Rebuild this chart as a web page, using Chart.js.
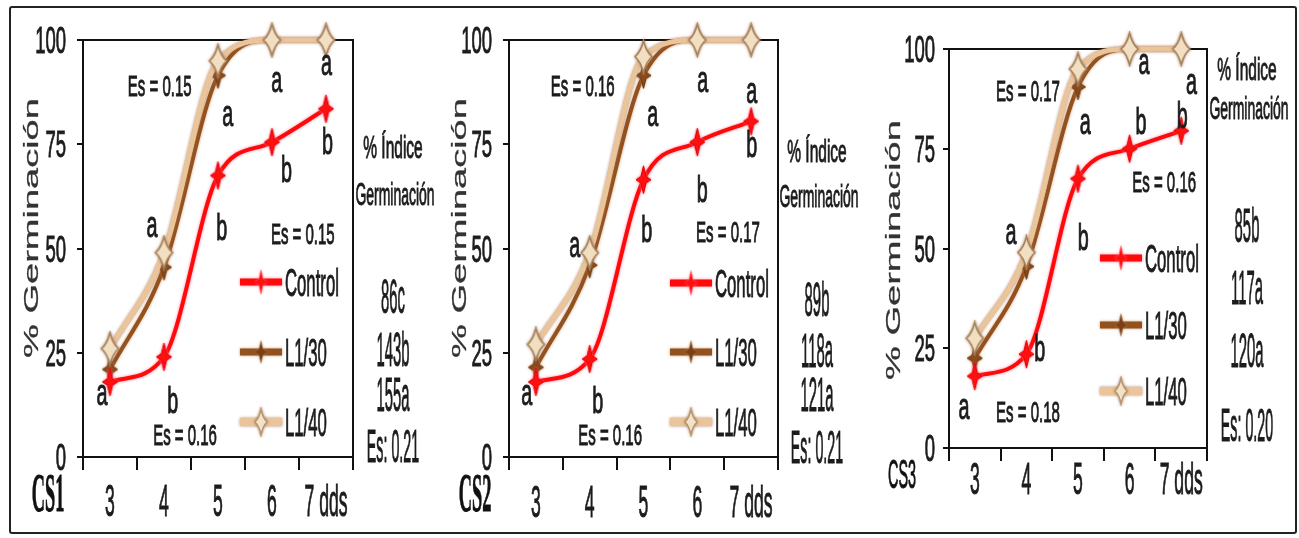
<!DOCTYPE html>
<html>
<head>
<meta charset="utf-8">
<title>Germinación CS1 CS2 CS3</title>
<script src="https://cdn.jsdelivr.net/npm/chart.js@4.4.1/dist/chart.umd.min.js"></script>
<style>
  body { margin: 0; background: #fff; }
  #wrap { position: relative; width: 1299px; height: 538px; overflow: hidden; }
  #frame { position: absolute; left: 9px; top: 6px; width: 1284px; height: 524px;
           border: 2px solid #222; border-radius: 3px; }
  canvas { position: absolute; top: 0; }
</style>
</head>
<body>
<div id="wrap">
  <div id="frame"></div>
  <canvas id="cs1"></canvas>
  <canvas id="cs2"></canvas>
  <canvas id="cs3"></canvas>
</div>
<script>
// days after sowing
const days = ['3', '4', '5', '6', '7'];
const dayTickLabels = ['3', '4', '5', '6', '7 dds'];
const yTickValues = [0, 25, 50, 75, 100];
const seriesNames = ['Control', 'L1/30', 'L1/40'];

// % germinación per day
const cs1Control = [18, 24, 67.5, 75.5, 83.5];
const cs1L130 = [21, 45.5, 91.5, 100, 100];
const cs1L140 = [26, 49, 95, 100, 100];

const cs2Control = [18, 23.5, 66.5, 75.5, 80.5];
const cs2L130 = [21.5, 46, 91.5, 100, 100];
const cs2L140 = [27, 49, 96, 100, 100];

const cs3Control = [18, 23.5, 67.5, 75, 79.5];
const cs3L130 = [22.5, 45.5, 90.5, 100, 100];
const cs3L140 = [27.5, 49, 95, 100, 100];

// % índice de germinación (Control, L1/30, L1/40)
const cs1Indice = ['86c', '143b', '155a'];
const cs2Indice = ['89b', '118a', '121a'];
const cs3Indice = ['85b', '117a', '120a'];
const indiceEs = ['Es: 0.21', 'Es: 0.21', 'Es: 0.20'];

// significance letters and standard errors: [text, day index, % value]
const cs1Notes = [
  ['Es = 0.15', 0.92, 89], ['a', 3.09, 90], ['a', 4.01, 94], ['a', 2.18, 81.8],
  ['b', 4.03, 75.8], ['b', 3.27, 69.3], ['a', 0.78, 55.2], ['b', 2.07, 55.2],
  ['Es = 0.15', 3.57, 53.5], ['a', -0.15, 14.9], ['b', 1.16, 13.7], ['Es = 0.16', 1.39, 5.3]
];
const cs2Notes = [
  ['Es = 0.16', 0.87, 89], ['a', 3.10, 90], ['a', 4.01, 87.3], ['a', 2.17, 81.8],
  ['b', 4.01, 75.1], ['b', 3.09, 64.3], ['a', 0.72, 50.4], ['b', 2.06, 54.7],
  ['Es = 0.17', 3.57, 54], ['a', -0.17, 14.9], ['b', 1.15, 13.9], ['Es = 0.16', 1.38, 5.3]
];
const cs3Notes = [
  ['a', 3.28, 96.2], ['a', 4.2, 91.2], ['Es = 0.17', 1.03, 89.5], ['a', 2.14, 81.2],
  ['b', 3.22, 82.2], ['b', 4.02, 83.5], ['Es = 0.16', 3.67, 66.7], ['a', 0.7, 53.6],
  ['b', 2.1, 52.9], ['b', 1.26, 25.1], ['a', -0.21, 9.8], ['Es = 0.18', 1.03, 9]
];

const SANS = '"Liberation Sans", Arial, sans-serif';
const SERIF = '"Liberation Serif", "Times New Roman", serif';
const INK = '#1c1c1c';

// squeezed text, centred vertically on its ink box
function txt(ctx, str, x, y, size, sx, o) {
  o = o || {};
  ctx.save();
  ctx.font = (o.weight || 'normal') + ' ' + size + 'px ' + (o.family || SANS);
  ctx.fillStyle = o.color || INK;
  ctx.strokeStyle = o.color || INK;
  ctx.lineWidth = o.stroke === undefined ? 1 : o.stroke;
  ctx.textBaseline = 'alphabetic';
  ctx.textAlign = o.align || 'center';
  const m = ctx.measureText(str);
  const dy = (m.actualBoundingBoxAscent - m.actualBoundingBoxDescent) / 2;
  ctx.translate(x, y);
  ctx.scale(sx, 1);
  if (o.rotate) ctx.rotate(o.rotate);
  ctx.fillText(str, 0, dy);
  if (ctx.lineWidth > 0) ctx.strokeText(str, 0, dy);
  ctx.restore();
}

function starImg(w, h, fill, edge) {
  const c = document.createElement('canvas');
  c.width = w + 4; c.height = h + 4;
  const g = c.getContext('2d');
  const cx = c.width / 2, cy = c.height / 2;
  g.beginPath();
  g.moveTo(cx, cy - h / 2);
  g.lineTo(cx + w * 0.17, cy - h * 0.12);
  g.lineTo(cx + w / 2, cy);
  g.lineTo(cx + w * 0.17, cy + h * 0.12);
  g.lineTo(cx, cy + h / 2);
  g.lineTo(cx - w * 0.17, cy + h * 0.12);
  g.lineTo(cx - w / 2, cy);
  g.lineTo(cx - w * 0.17, cy - h * 0.12);
  g.closePath();
  g.fillStyle = fill; g.fill();
  if (edge) { g.strokeStyle = edge; g.lineWidth = 1; g.stroke(); }
  return c;
}

function diamondImg(w, h, fill, edge) {
  const c = document.createElement('canvas');
  c.width = w + 4; c.height = h + 4;
  const g = c.getContext('2d');
  const cx = c.width / 2, cy = c.height / 2;
  g.beginPath();
  g.moveTo(cx, cy - h / 2);
  g.quadraticCurveTo(cx + w * 0.15, cy - h * 0.15, cx + w / 2, cy);
  g.quadraticCurveTo(cx + w * 0.15, cy + h * 0.15, cx, cy + h / 2);
  g.quadraticCurveTo(cx - w * 0.15, cy + h * 0.15, cx - w / 2, cy);
  g.quadraticCurveTo(cx - w * 0.15, cy - h * 0.15, cx, cy - h / 2);
  g.closePath();
  g.fillStyle = fill; g.fill();
  g.strokeStyle = edge; g.lineWidth = 1.5; g.stroke();
  return c;
}

const STYLES = [
  { color: '#ff0a0a', width: 4, glow: 'rgba(255,110,140,0.9)', order: 0,
    marker: starImg(15, 28, '#ff1010', '#e00000'), legendMarker: starImg(11, 26, '#ff1010'), legendWidth: 7 },
  { color: '#93511e', width: 4, glow: 'rgba(190,130,80,0.8)', order: 2,
    marker: starImg(15, 26, '#8a4a1a', '#6a3510'), legendMarker: starImg(11, 24, '#7a4015'), legendWidth: 7 },
  { color: '#eac59a', width: 5, glow: 'rgba(170,110,80,0.9)', order: 1,
    marker: diamondImg(17, 32, '#f2dfc2', '#a0825a'), legendMarker: diamondImg(12, 26, '#f2e2c8', '#b59870'), legendWidth: 8 }
];

const panels = [
  { id: 'cs1', left: 0, w: 445, name: 'CS1', nameFont: { family: SERIF, weight: 'bold', size: 54, sx: 0.34 },
    pad: { left: 83, right: 92, top: 40, bottom: 81 },
    series: [cs1Control, cs1L130, cs1L140], indice: cs1Indice, es: indiceEs[0], notes: cs1Notes,
    yLabelRight: 66, xLabelY: 500, nameXY: [48, 493], titleXY: [30, 228],
    legendRows: [282, 352, 422], rightX: 393, rightY: [144, 193, 296, 348, 394, 446] },
  { id: 'cs2', left: 430, w: 445, name: 'CS2', nameFont: { family: SERIF, weight: 'bold', size: 54, sx: 0.34 },
    pad: { left: 79, right: 97, top: 40, bottom: 81 },
    series: [cs2Control, cs2L130, cs2L140], indice: cs2Indice, es: indiceEs[1], notes: cs2Notes,
    yLabelRight: 62, xLabelY: 501, nameXY: [45, 493], titleXY: [28, 228],
    legendRows: [283, 352, 422], rightX: 387, rightY: [148, 195, 298, 350, 394, 447] },
  { id: 'cs3', left: 860, w: 439, name: 'CS3', nameFont: { family: SANS, weight: 'normal', size: 40, sx: 0.36 },
    pad: { left: 89, right: 92, top: 49, bottom: 90 },
    series: [cs3Control, cs3L130, cs3L140], indice: cs3Indice, es: indiceEs[2], notes: cs3Notes,
    yLabelRight: 75, xLabelY: 478, nameXY: [42, 474], titleXY: [32, 250],
    legendRows: [258, 325, 391], rightX: 387, rightY: [66, 107, 224, 287, 350, 425] }
];

// soft halo around each curve and its markers
const glowPlugin = {
  id: 'glow',
  beforeDatasetDraw(chart, args) {
    const st = STYLES[args.index];
    chart.ctx.shadowColor = st.glow;
    chart.ctx.shadowBlur = 3;
  },
  afterDatasetDraw(chart) {
    chart.ctx.shadowColor = 'rgba(0,0,0,0)';
    chart.ctx.shadowBlur = 0;
  }
};

function panelTextPlugin(p) {
  return {
    id: 'panelText',
    beforeDatasetsDraw(chart) {
      const ctx = chart.ctx, a = chart.chartArea;
      ctx.save();
      ctx.strokeStyle = '#111';
      ctx.lineWidth = 2;
      ctx.beginPath();
      ctx.moveTo(a.left, a.top);
      ctx.lineTo(a.right, a.top);
      ctx.lineTo(a.right, a.bottom);
      ctx.stroke();
      ctx.restore();
    },
    afterDraw(chart) {
      const ctx = chart.ctx;
      const xs = chart.scales.x, ys = chart.scales.y;

      yTickValues.forEach(v => txt(ctx, String(v), p.yLabelRight, ys.getPixelForValue(v), 37, 0.5, { align: 'right' }));
      dayTickLabels.forEach((s, i) => txt(ctx, s, xs.getPixelForValue(i), p.xLabelY, 44, 0.4));

      txt(ctx, '% Germinación', p.titleXY[0], p.titleXY[1], 38, 0.54, { rotate: -Math.PI / 2, color: '#333', stroke: 0.5 });
      txt(ctx, p.name, p.nameXY[0], p.nameXY[1], p.nameFont.size, p.nameFont.sx,
          { family: p.nameFont.family, weight: p.nameFont.weight, color: '#111' });

      p.notes.forEach(n => {
        const big = n[0].length === 1;
        txt(ctx, n[0], xs.getPixelForValue(n[1]), ys.getPixelForValue(n[2]), big ? 36 : 30, big ? 0.55 : 0.5);
      });

      // legend inside the plot
      seriesNames.forEach((name, i) => {
        const st = STYLES[i], y = p.legendRows[i];
        ctx.save();
        ctx.shadowColor = st.glow;
        ctx.shadowBlur = 3;
        ctx.strokeStyle = st.color;
        ctx.lineWidth = st.legendWidth;
        ctx.beginPath();
        ctx.moveTo(240, y);
        ctx.lineTo(282, y);
        ctx.stroke();
        const m = st.legendMarker;
        ctx.drawImage(m, 261 - m.width / 2, y - m.height / 2);
        ctx.restore();
        txt(ctx, name, 285, y, 38, 0.44, { align: 'left' });
      });

      // % índice de germinación column
      const r = p.rightY;
      txt(ctx, '% Índice', p.rightX, r[0], 31, 0.5);
      txt(ctx, 'Germinación', p.rightX + 2, r[1], 31, 0.45);
      p.indice.forEach((s, i) => txt(ctx, s, p.rightX, r[2 + i], 48, 0.31));
      txt(ctx, p.es, p.rightX, r[5], 46, 0.31);
    }
  };
}

function makePanel(p) {
  const canvas = document.getElementById(p.id);
  canvas.width = p.w;
  canvas.height = 538;
  canvas.style.left = p.left + 'px';
  new Chart(canvas, {
    type: 'line',
    data: {
      labels: days,
      datasets: seriesNames.map((name, i) => ({
        label: name,
        data: p.series[i],
        borderColor: STYLES[i].color,
        backgroundColor: STYLES[i].color,
        borderWidth: STYLES[i].width,
        pointStyle: STYLES[i].marker,
        pointRadius: 10,
        cubicInterpolationMode: 'monotone',
        order: STYLES[i].order,
        clip: false
      }))
    },
    options: {
      responsive: false,
      animation: false,
      devicePixelRatio: 1,
      layout: { padding: p.pad },
      events: [],
      plugins: { legend: { display: false }, tooltip: { enabled: false } },
      scales: {
        x: {
          type: 'category',
          offset: true,
          grid: { offset: true, drawOnChartArea: false, drawTicks: true, tickLength: 13, color: '#111', lineWidth: 2 },
          border: { display: true, color: '#111', width: 2 },
          ticks: { display: false },
          afterFit(s) { s.height = 0; }
        },
        y: {
          min: 0,
          max: 100,
          ticks: { display: false, stepSize: 25 },
          grid: { drawOnChartArea: false, drawTicks: true, tickLength: 6, color: '#111', lineWidth: 2 },
          border: { display: true, color: '#111', width: 2 },
          afterFit(s) { s.width = 0; }
        }
      }
    },
    plugins: [glowPlugin, panelTextPlugin(p)]
  });
}

panels.forEach(makePanel);
</script>
</body>
</html>
